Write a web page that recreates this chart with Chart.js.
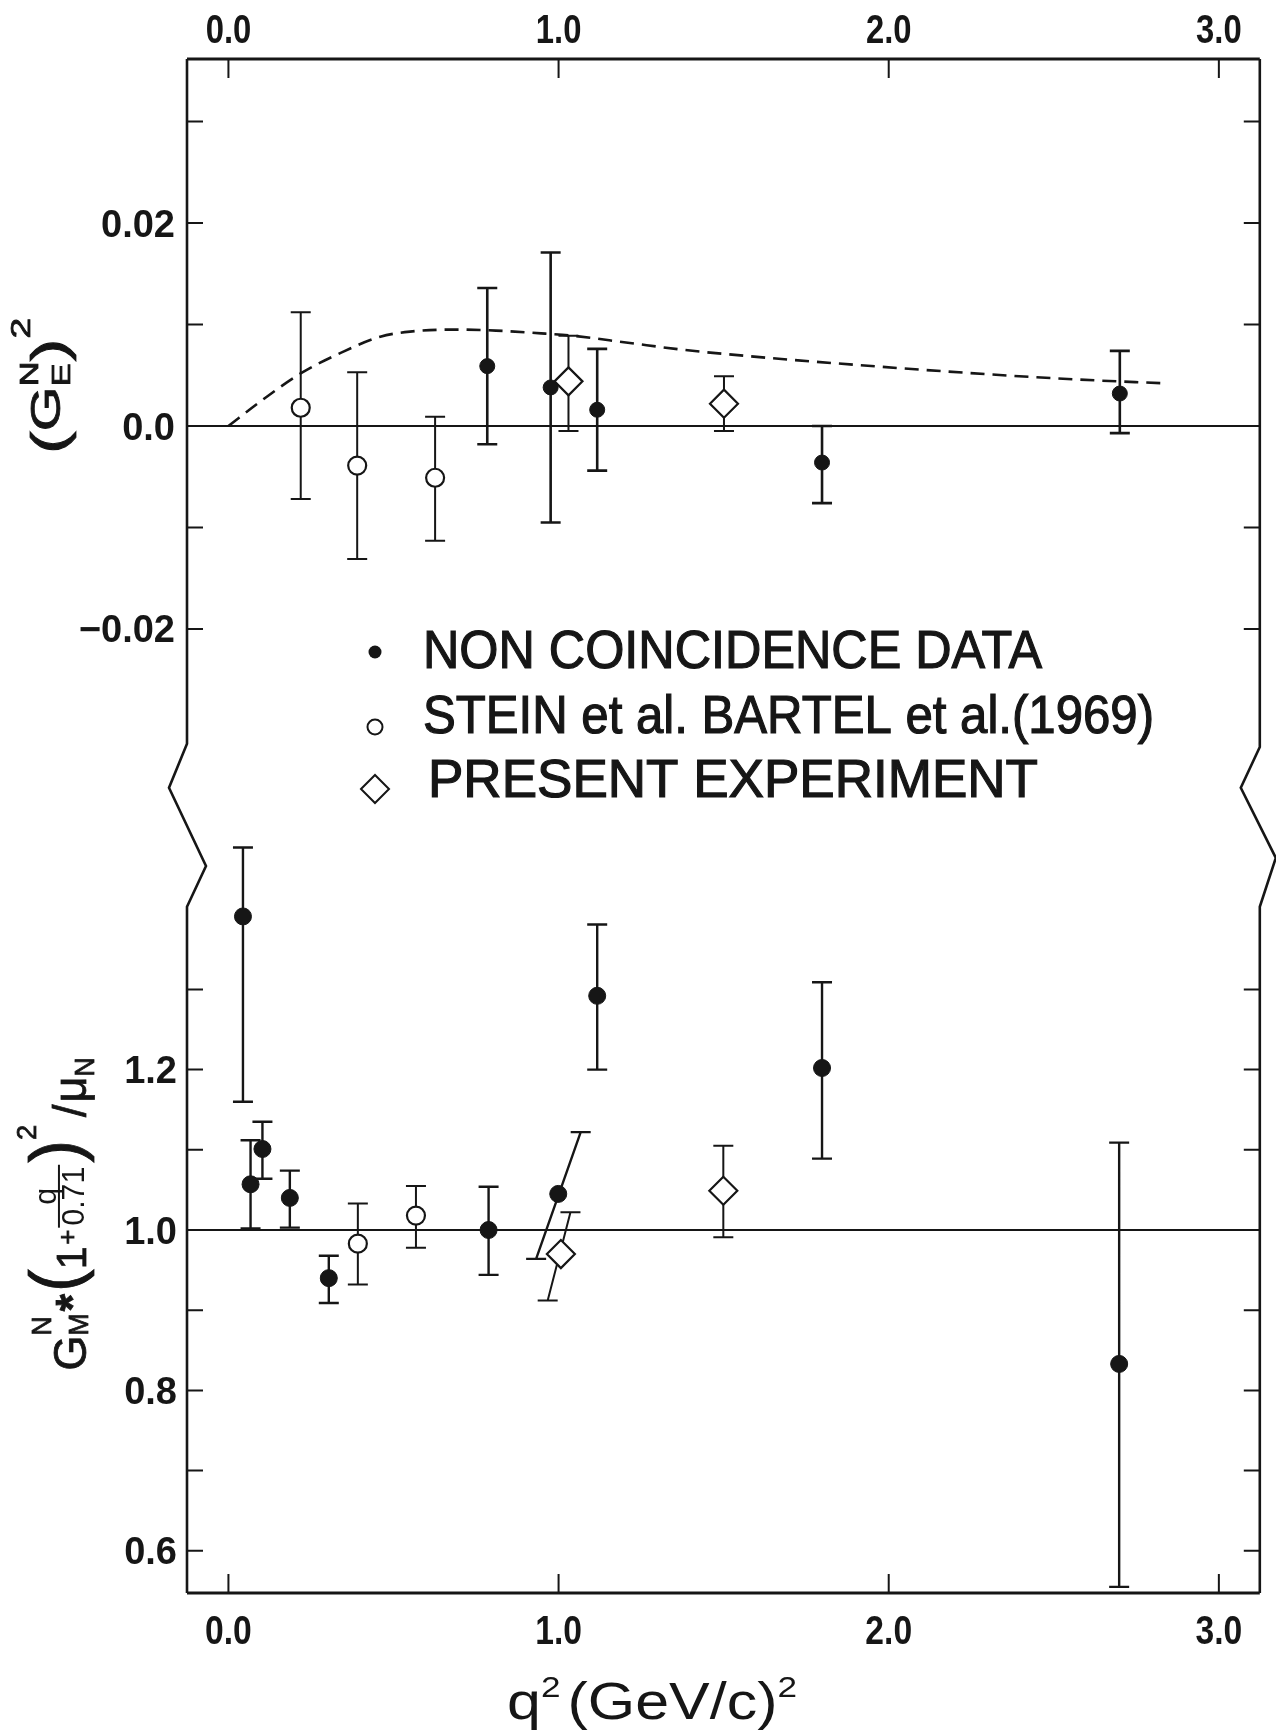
<!DOCTYPE html>
<html>
<head>
<meta charset="utf-8">
<script src="https://cdn.jsdelivr.net/npm/chart.js@4.4.0/dist/chart.umd.min.js"></script>
<style>
  html, body { margin: 0; padding: 0; background: #fff; }
  #wrap { width: 1276px; height: 1733px; }
</style>
</head>
<body>
<div id="wrap"><canvas id="chart" width="1276" height="1733"></canvas></div>
<script>
// q^2 axis (GeV/c)^2
var qTicks = [0, 1, 2, 3];
var qTickLabels = ['0.0', '1.0', '2.0', '3.0'];

// upper panel: |G_E^N|^2
var geTicks = [0.03, 0.02, 0.01, 0.0, -0.01, -0.02];
var geLabelValues = [0.02, 0.0, -0.02];
var geLabels = ['0.02', '0.0', '\u22120.02'];

// lower panel: G_M^N*(1+q/0.71)^2/mu_N
var gmTicks = [1.3, 1.2, 1.1, 1.0, 0.9, 0.8, 0.7, 0.6];
var gmLabelValues = [1.2, 1.0, 0.8, 0.6];
var gmLabels = ['1.2', '1.0', '0.8', '0.6'];

// non coincidence data (filled dots), upper panel
var geFilledQ = [0.784, 0.976, 1.117, 1.798, 2.700];
var geFilledVal = [0.0059, 0.0038, 0.0016, -0.0036, 0.0032];
var geFilledLo = [-0.0018, -0.0095, -0.0044, -0.0076, -0.0007];
var geFilledHi = [0.0136, 0.0171, 0.0076, 0.0000, 0.0074];

// Stein et al., Bartel et al. (open circles), upper panel
var geOpenQ = [0.219, 0.390, 0.626];
var geOpenVal = [0.0018, -0.0039, -0.0051];
var geOpenLo = [-0.0072, -0.0131, -0.0113];
var geOpenHi = [0.0112, 0.0053, 0.0009];

// present experiment (diamonds), upper panel
var geDiamQ = [1.030, 1.501];
var geDiamVal = [0.0044, 0.0022];
var geDiamLo = [-0.0005, -0.0005];
var geDiamHi = [0.0089, 0.0049];

// dashed curve, upper panel
var theoryQ = [0, 0.10, 0.22, 0.34, 0.46, 0.55, 0.69, 0.81, 0.96, 1.04, 1.21, 1.38, 1.57, 1.91, 2.30, 2.56, 2.84];
var theoryVal = [0, 0.0025, 0.0052, 0.0072, 0.0088, 0.0093, 0.0095, 0.0094, 0.0091, 0.0089, 0.0082, 0.0075, 0.0069, 0.0060, 0.0051, 0.0046, 0.0042];

// non coincidence data, lower panel
var gmFilledQ = [0.044, 0.067, 0.103, 0.186, 0.304, 0.788, 0.999, 1.117, 1.798, 2.698];
var gmFilledVal = [1.391, 1.057, 1.101, 1.040, 0.940, 1.000, 1.045, 1.292, 1.202, 0.833];
var gmFilledLo = [1.160, 1.002, 1.064, 1.003, 0.909, 0.944, 0.964, 1.200, 1.089, 0.555];
var gmFilledHi = [1.477, 1.112, 1.135, 1.074, 0.968, 1.054, 1.122, 1.381, 1.309, 1.109];
// the point near 1.0 has a slanted bar
var gmFilledLoQ = [0.044, 0.067, 0.103, 0.186, 0.304, 0.788, 0.932, 1.117, 1.798, 2.698];
var gmFilledHiQ = [0.044, 0.067, 0.103, 0.186, 0.304, 0.788, 1.067, 1.117, 1.798, 2.698];

// Stein / Bartel, lower panel
var gmOpenQ = [0.392, 0.568];
var gmOpenVal = [0.983, 1.018];
var gmOpenLo = [0.932, 0.978];
var gmOpenHi = [1.033, 1.055];

// present experiment, lower panel
var gmDiamQ = [1.007, 1.499];
var gmDiamVal = [0.970, 1.049];
var gmDiamLo = [0.912, 0.991];
var gmDiamHi = [1.022, 1.105];
var gmDiamLoQ = [0.967, 1.499];
var gmDiamHiQ = [1.036, 1.499];

// where each panel's axis stops at the break
var geBreak = -0.0313;
var gmBreak = 1.403;

var legendItems = ['NON COINCIDENCE DATA', 'STEIN et al. BARTEL et al.(1969)', 'PRESENT EXPERIMENT'];

var ink = '#161616';
var font = '"Liberation Sans", Arial, sans-serif';

function pts(xs, ys) {
  return xs.map(function (x, i) { return { x: x, y: ys[i] }; });
}

// rich text: pieces laid out along a baseline
function layoutPieces(c, pieces) {
  var x = 0, items = [], lastStart = 0;
  pieces.forEach(function (p) {
    var w;
    if (p.frac) {
      c.font = p.s + 'px ' + font;
      w = Math.max(c.measureText(p.frac[0]).width, c.measureText(p.frac[1]).width) + 4;
      items.push({ frac: p.frac, s: p.s, x: x, w: w, dy: p.dy || 0 });
      lastStart = x; x += w + (p.gap || 0);
      return;
    }
    c.font = (p.b ? 'bold ' : '') + p.s + 'px ' + font;
    w = c.measureText(p.t).width;
    if (p.stack) {
      items.push({ t: p.t, s: p.s, b: p.b, x: lastStart, dy: p.dy || 0 });
      x = Math.max(x, lastStart + w + (p.gap || 0));
    } else {
      items.push({ t: p.t, s: p.s, b: p.b, x: x, dy: p.dy || 0 });
      lastStart = x; x += w + (p.gap || 0);
    }
  });
  return { items: items, width: x };
}

function drawPieces(c, pieces, cx, cy, rot, targetW, heavy) {
  var lay = layoutPieces(c, pieces);
  c.save();
  c.translate(cx, cy);
  c.rotate(rot);
  if (targetW) c.scale(targetW / lay.width, 1);
  c.fillStyle = ink;
  c.strokeStyle = ink;
  c.textBaseline = 'alphabetic';
  c.textAlign = 'left';
  var x0 = -lay.width / 2;
  lay.items.forEach(function (it) {
    if (it.frac) {
      c.font = it.s + 'px ' + font;
      var bar = it.dy - it.s * 0.55;
      c.textAlign = 'center';
      c.fillText(it.frac[0], x0 + it.x + it.w / 2, bar - 3);
      c.fillText(it.frac[1], x0 + it.x + it.w / 2, bar + it.s * 0.8);
      c.textAlign = 'left';
      c.lineWidth = 2;
      c.beginPath();
      c.moveTo(x0 + it.x, bar);
      c.lineTo(x0 + it.x + it.w, bar);
      c.stroke();
      return;
    }
    c.font = (it.b ? 'bold ' : '') + it.s + 'px ' + font;
    c.fillText(it.t, x0 + it.x, it.dy);
    if (heavy) { c.lineWidth = heavy; c.strokeText(it.t, x0 + it.x, it.dy); }
  });
  c.restore();
}

// plain text squeezed/stretched to a given width
function drawFit(c, text, x, y, w, f, heavy) {
  c.save();
  c.font = f;
  var m = c.measureText(text).width;
  c.translate(x, y);
  c.scale(w / m, 1);
  c.textAlign = 'left';
  c.textBaseline = 'alphabetic';
  c.fillStyle = ink;
  c.strokeStyle = ink;
  c.fillText(text, 0, 0);
  if (heavy) { c.lineWidth = heavy; c.strokeText(text, 0, 0); }
  c.restore();
}

// condensed tick label
function drawLabel(c, text, x, y, align, f, sx) {
  c.save();
  c.font = f;
  c.translate(x, y);
  c.scale(sx, 1);
  c.textAlign = align;
  c.textBaseline = 'alphabetic';
  c.fillStyle = ink;
  c.fillText(text, 0, 0);
  c.restore();
}

var underlay = {
  id: 'underlay',
  beforeDatasetsDraw: function (chart) {
    var c = chart.ctx, a = chart.chartArea, xs = chart.scales.x;
    var yE = chart.scales.yE, yM = chart.scales.yM;
    c.save();
    c.strokeStyle = ink;
    // reference lines at 0 and 1
    c.lineWidth = 1.8;
    c.beginPath();
    c.moveTo(a.left, yE.getPixelForValue(0)); c.lineTo(a.right, yE.getPixelForValue(0));
    c.moveTo(a.left, yM.getPixelForValue(1)); c.lineTo(a.right, yM.getPixelForValue(1));
    c.stroke();
    // error bars
    chart.data.datasets.forEach(function (ds) {
      if (!ds.errLo) return;
      var ys = chart.scales[ds.yAxisID];
      c.lineWidth = ds.errWidth;
      c.beginPath();
      ds.data.forEach(function (p, i) {
        var xl = xs.getPixelForValue(ds.errLoQ ? ds.errLoQ[i] : p.x);
        var xh = xs.getPixelForValue(ds.errHiQ ? ds.errHiQ[i] : p.x);
        var yl = ys.getPixelForValue(ds.errLo[i]);
        var yh = ys.getPixelForValue(ds.errHi[i]);
        c.moveTo(xl, yl); c.lineTo(xh, yh);
        c.moveTo(xl - 10, yl); c.lineTo(xl + 10, yl);
        c.moveTo(xh - 10, yh); c.lineTo(xh + 10, yh);
      });
      c.stroke();
    });
    c.restore();
  },
  afterDraw: function (chart) {
    var c = chart.ctx, a = chart.chartArea, xs = chart.scales.x;
    var yE = chart.scales.yE, yM = chart.scales.yM;
    var pUp = yE.getPixelForValue(geBreak), pLo = yM.getPixelForValue(gmBreak), h = pLo - pUp;
    c.save();
    c.strokeStyle = ink;
    c.fillStyle = ink;
    c.lineJoin = 'miter';

    // frame with broken side axes
    c.lineWidth = 3;
    c.beginPath();
    c.moveTo(a.left, a.top); c.lineTo(a.right, a.top);
    c.moveTo(a.left, a.bottom); c.lineTo(a.right, a.bottom);
    c.stroke();
    c.lineWidth = 2.6;
    c.beginPath();
    c.moveTo(a.left, a.top);
    c.lineTo(a.left, pUp);
    c.lineTo(a.left - 18, pUp + 0.27 * h);
    c.lineTo(a.left + 19, pUp + 0.75 * h);
    c.lineTo(a.left, pLo);
    c.lineTo(a.left, a.bottom);
    c.moveTo(a.right, a.top);
    c.lineTo(a.right, pUp + 0.02 * h);
    c.lineTo(a.right - 19, pUp + 0.27 * h);
    c.lineTo(a.right + 16, pUp + 0.70 * h);
    c.lineTo(a.right, pLo);
    c.lineTo(a.right, a.bottom);
    c.stroke();

    // ticks
    c.lineWidth = 2;
    c.beginPath();
    qTicks.forEach(function (v) {
      var x = xs.getPixelForValue(v);
      c.moveTo(x, a.top); c.lineTo(x, a.top + 19);
      c.moveTo(x, a.bottom); c.lineTo(x, a.bottom - 19);
    });
    geTicks.forEach(function (v) {
      var y = yE.getPixelForValue(v);
      c.moveTo(a.left, y); c.lineTo(a.left + 16, y);
      c.moveTo(a.right, y); c.lineTo(a.right - 16, y);
    });
    gmTicks.forEach(function (v) {
      var y = yM.getPixelForValue(v);
      c.moveTo(a.left, y); c.lineTo(a.left + 16, y);
      c.moveTo(a.right, y); c.lineTo(a.right - 16, y);
    });
    c.stroke();

    // tick labels
    qTicks.forEach(function (v, i) {
      var x = xs.getPixelForValue(v);
      drawLabel(c, qTickLabels[i], x, a.top - 16, 'center', 'bold 40px ' + font, 0.82);
      drawLabel(c, qTickLabels[i], x, a.bottom + 51, 'center', 'bold 41px ' + font, 0.82);
    });
    geLabelValues.forEach(function (v, i) {
      drawLabel(c, geLabels[i], a.left - 12, yE.getPixelForValue(v) + 13.5, 'right', 'bold 38px ' + font, 1);
    });
    gmLabelValues.forEach(function (v, i) {
      drawLabel(c, gmLabels[i], a.left - 10, yM.getPixelForValue(v) + 13.5, 'right', 'bold 38px ' + font, 1);
    });

    // axis titles
    drawPieces(c, [
      { t: '(', s: 50, dy: 6 },
      { t: 'G', s: 42 },
      { t: 'N', s: 25, dy: -22 },
      { t: 'E', s: 25, dy: 10, stack: true },
      { t: ')', s: 50, dy: 6 },
      { t: '2', s: 27, dy: -30 }
    ], 60, 386, -Math.PI / 2, 136, 0.8);

    drawPieces(c, [
      { t: 'G', s: 46 },
      { t: 'N', s: 27, dy: -35 },
      { t: 'M', s: 27, dy: 2, stack: true, gap: 2 },
      { t: '*', s: 46, dy: 2, b: true, gap: 2 },
      { t: '(', s: 70, dy: -7 },
      { t: '1', s: 42, gap: 2 },
      { t: '+', s: 26, dy: -10, gap: 2 },
      { frac: ['q', '0.71'], s: 31, dy: -10, gap: 2 },
      { t: ')', s: 70, dy: -7 },
      { t: '2', s: 28, dy: -50, gap: 8 },
      { t: '/', s: 46, gap: 2 },
      { t: '\u03bc', s: 46 },
      { t: 'N', s: 27, dy: 8 }
    ], 86, 1214, -Math.PI / 2, 313, 0.8);

    drawPieces(c, [
      { t: 'q', s: 52 },
      { t: '2', s: 30, dy: -22, gap: 6 },
      { t: '(GeV/c)', s: 52 },
      { t: '2', s: 30, dy: -22 }
    ], 652, 1719, 0, 290);

    // legend
    var lx = 375;
    c.beginPath();
    c.arc(lx, 652, 6.5, 0, Math.PI * 2);
    c.fill();
    c.lineWidth = 2;
    c.beginPath();
    c.arc(lx, 727, 7.5, 0, Math.PI * 2);
    c.stroke();
    c.beginPath();
    c.moveTo(lx - 14, 789); c.lineTo(lx, 775); c.lineTo(lx + 14, 789); c.lineTo(lx, 803);
    c.closePath();
    c.stroke();
    drawFit(c, legendItems[0], 423, 668, 619, '54px ' + font, 1.2);
    drawFit(c, legendItems[1], 423, 733, 731, '54px ' + font, 1.2);
    drawFit(c, legendItems[2], 428, 797, 610, '54px ' + font, 1.2);
    c.restore();
  }
};

var ctx = document.getElementById('chart').getContext('2d');

var chart = new Chart(ctx, {
  type: 'scatter',
  data: {
    datasets: [
      {
        label: 'Present experiment |GE|2',
        data: pts(geDiamQ, geDiamVal),
        yAxisID: 'yE',
        pointStyle: 'rectRot', pointRadius: 14,
        backgroundColor: '#fff', borderColor: ink, borderWidth: 2.2,
        errLo: geDiamLo, errHi: geDiamHi, errWidth: 2
      },
      {
        label: 'Stein/Bartel |GE|2',
        data: pts(geOpenQ, geOpenVal),
        yAxisID: 'yE',
        pointStyle: 'circle', pointRadius: 9,
        backgroundColor: '#fff', borderColor: ink, borderWidth: 2.2,
        errLo: geOpenLo, errHi: geOpenHi, errWidth: 2
      },
      {
        label: 'Non coincidence |GE|2',
        data: pts(geFilledQ, geFilledVal),
        yAxisID: 'yE',
        pointStyle: 'circle', pointRadius: 7.5,
        backgroundColor: ink, borderColor: ink, borderWidth: 1,
        errLo: geFilledLo, errHi: geFilledHi, errWidth: 2.6
      },
      {
        label: 'Present experiment GM',
        data: pts(gmDiamQ, gmDiamVal),
        yAxisID: 'yM',
        pointStyle: 'rectRot', pointRadius: 14,
        backgroundColor: '#fff', borderColor: ink, borderWidth: 2.2,
        errLo: gmDiamLo, errHi: gmDiamHi, errLoQ: gmDiamLoQ, errHiQ: gmDiamHiQ, errWidth: 2
      },
      {
        label: 'Stein/Bartel GM',
        data: pts(gmOpenQ, gmOpenVal),
        yAxisID: 'yM',
        pointStyle: 'circle', pointRadius: 9,
        backgroundColor: '#fff', borderColor: ink, borderWidth: 2.2,
        errLo: gmOpenLo, errHi: gmOpenHi, errWidth: 2
      },
      {
        label: 'Non coincidence GM',
        data: pts(gmFilledQ, gmFilledVal),
        yAxisID: 'yM',
        pointStyle: 'circle', pointRadius: 8.5,
        backgroundColor: ink, borderColor: ink, borderWidth: 1,
        errLo: gmFilledLo, errHi: gmFilledHi, errLoQ: gmFilledLoQ, errHiQ: gmFilledHiQ, errWidth: 2.4
      },
      {
        type: 'line',
        label: 'theory',
        data: pts(theoryQ, theoryVal),
        yAxisID: 'yE',
        showLine: true,
        fill: false,
        borderColor: ink,
        borderWidth: 2.6,
        borderDash: [14, 8],
        pointRadius: 0,
        cubicInterpolationMode: 'monotone'
      }
    ]
  },
  options: {
    responsive: false,
    animation: false,
    devicePixelRatio: 1,
    layout: { padding: { left: 187, right: 14, top: 59, bottom: 140 } },
    scales: {
      x: { type: 'linear', min: -0.1255, max: 3.124, display: false },
      yE: { type: 'linear', position: 'left', min: -0.11498, max: 0.03616, display: false },
      yM: { type: 'linear', position: 'left', min: 0.5474, max: 2.4601, display: false }
    },
    plugins: {
      legend: { display: false },
      tooltip: { enabled: false }
    }
  },
  plugins: [underlay]
});
</script>
</body>
</html>
